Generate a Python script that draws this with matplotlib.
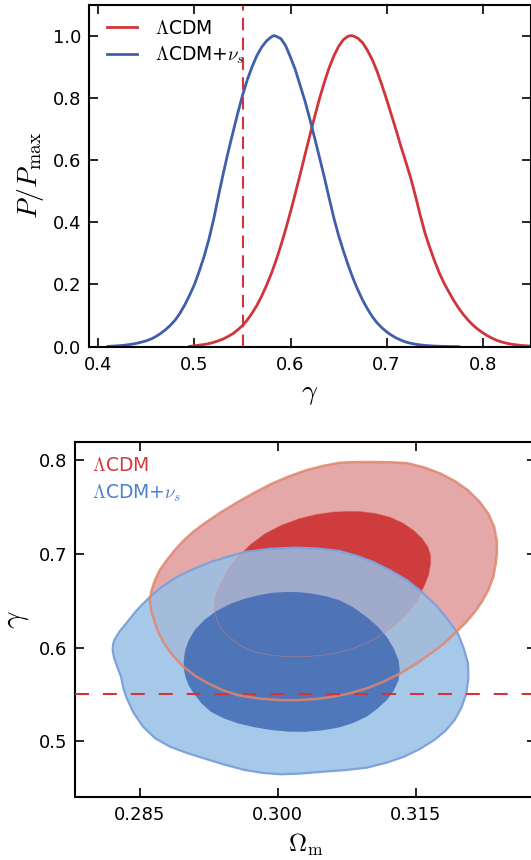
import matplotlib
matplotlib.use('Agg')
import matplotlib.pyplot as plt

plt.rcParams['mathtext.fontset'] = 'cm'
plt.rcParams['font.family'] = ['DejaVu Sans']

# ---------------- data ----------------
models = [r'$\Lambda$CDM', r'$\Lambda$CDM+$\nu_s$']

# 1D posteriors of gamma (P/Pmax)
gamma_lcdm = [0.495, 0.500, 0.505, 0.510, 0.515, 0.520, 0.525, 0.530, 0.535, 0.540,
              0.545, 0.550, 0.555, 0.560, 0.565, 0.570, 0.575, 0.580, 0.585, 0.590,
              0.595, 0.600, 0.605, 0.610, 0.615, 0.620, 0.625, 0.630, 0.635, 0.640,
              0.645, 0.650, 0.655, 0.660, 0.663, 0.665, 0.670, 0.675, 0.680, 0.685,
              0.690, 0.695, 0.700, 0.705, 0.710, 0.715, 0.720, 0.725, 0.730, 0.735,
              0.740, 0.745, 0.750, 0.755, 0.760, 0.765, 0.770, 0.775, 0.780, 0.785,
              0.790, 0.795, 0.800, 0.805, 0.810, 0.815, 0.820, 0.825, 0.830, 0.835,
              0.840, 0.845, 0.850]
P_lcdm = [0.001, 0.003, 0.005, 0.007, 0.010, 0.014, 0.019, 0.025, 0.033, 0.042,
          0.054, 0.068, 0.086, 0.108, 0.133, 0.163, 0.197, 0.235, 0.278, 0.326,
          0.378, 0.434, 0.493, 0.554, 0.616, 0.678, 0.738, 0.796, 0.848, 0.895,
          0.934, 0.965, 0.987, 0.998, 1.000, 0.999, 0.992, 0.977, 0.953, 0.923,
          0.886, 0.842, 0.795, 0.745, 0.695, 0.643, 0.594, 0.543, 0.485, 0.423,
          0.365, 0.318, 0.275, 0.236, 0.203, 0.175, 0.148, 0.124, 0.103, 0.085,
          0.069, 0.056, 0.045, 0.035, 0.027, 0.020, 0.015, 0.011, 0.008, 0.006,
          0.004, 0.003, 0.002]

gamma_nus = [0.410, 0.415, 0.420, 0.425, 0.430, 0.435, 0.440, 0.445, 0.450, 0.455,
             0.460, 0.465, 0.470, 0.475, 0.480, 0.485, 0.490, 0.495, 0.500, 0.505,
             0.510, 0.515, 0.520, 0.525, 0.530, 0.535, 0.540, 0.545, 0.550, 0.555,
             0.560, 0.565, 0.570, 0.575, 0.580, 0.5825, 0.585, 0.590, 0.595, 0.600,
             0.605, 0.610, 0.615, 0.620, 0.625, 0.630, 0.635, 0.640, 0.645, 0.650,
             0.655, 0.660, 0.665, 0.670, 0.675, 0.680, 0.685, 0.690, 0.695, 0.700,
             0.705, 0.710, 0.715, 0.720, 0.725, 0.730, 0.740, 0.750, 0.760, 0.775]
P_nus = [0.001, 0.002, 0.003, 0.004, 0.006, 0.008, 0.011, 0.015, 0.019, 0.025,
         0.033, 0.043, 0.055, 0.069, 0.086, 0.108, 0.135, 0.166, 0.200, 0.243,
         0.290, 0.345, 0.410, 0.485, 0.557, 0.625, 0.688, 0.750, 0.808, 0.858,
         0.900, 0.936, 0.963, 0.983, 0.996, 1.000, 0.998, 0.990, 0.967, 0.930,
         0.890, 0.840, 0.790, 0.733, 0.672, 0.610, 0.547, 0.480, 0.415, 0.358,
         0.308, 0.262, 0.220, 0.183, 0.150, 0.122, 0.097, 0.077, 0.061, 0.048,
         0.037, 0.028, 0.021, 0.015, 0.011, 0.008, 0.004, 0.002, 0.001, 0.000]

gamma_GR = 0.55

# 2D confidence regions in (Omega_m, gamma), boundaries
lcdm_2sig_om = [0.2861, 0.28630, 0.28666, 0.28720, 0.28794, 0.28880, 0.28979, 0.29085, 0.29199,
                0.29380, 0.29566, 0.29750, 0.29934, 0.30118, 0.30302, 0.30485, 0.30669, 0.30850,
                0.31037, 0.31220, 0.31405, 0.31590, 0.31771, 0.31930, 0.32066, 0.32190, 0.32286,
                0.32350, 0.32378, 0.32380, 0.32367, 0.32340, 0.32286, 0.32220, 0.3214, 0.32040,
                0.3192, 0.31800, 0.31662, 0.31500, 0.31331, 0.31150, 0.30963, 0.30780, 0.30596,
                0.30410, 0.30228, 0.30033, 0.29800, 0.29566, 0.29400, 0.2924, 0.29100, 0.2898,
                0.28860, 0.28763, 0.28700, 0.28657, 0.28625]
lcdm_2sig_g = [0.6506, 0.6615, 0.672, 0.6830, 0.6933, 0.7040, 0.7146, 0.7240, 0.7324,
               0.7445, 0.7555, 0.7657, 0.7751, 0.7828, 0.7893, 0.7940, 0.7975, 0.7982,
               0.7983, 0.7980, 0.7971, 0.7925, 0.7858, 0.7775, 0.768, 0.7560, 0.7431,
               0.7290, 0.7146, 0.7020, 0.6898, 0.6755, 0.6613, 0.6495, 0.6381, 0.6265,
               0.615, 0.6040, 0.5937, 0.5825, 0.5724, 0.5637, 0.5563, 0.5510, 0.5474,
               0.5450, 0.5439, 0.5439, 0.5455, 0.5492, 0.5545, 0.562, 0.5700, 0.5791,
               0.5915, 0.6047, 0.6170, 0.6292, 0.6400]

lcdm_1sig_om = [0.29316, 0.29335, 0.29383, 0.29460, 0.29566, 0.29700, 0.2986, 0.30040, 0.30228,
                0.30410, 0.30596, 0.30745, 0.3089, 0.31060, 0.3122, 0.31360, 0.31477, 0.31570,
                0.31633, 0.31662, 0.31662, 0.31640, 0.31588, 0.31510, 0.31405, 0.31285, 0.31147,
                0.30990, 0.30816, 0.30650, 0.30485, 0.30300, 0.30117, 0.29930, 0.2975, 0.29610,
                0.29493, 0.29405, 0.29346, 0.29318]
lcdm_1sig_g = [0.647, 0.658, 0.6684, 0.6830, 0.6968, 0.7100, 0.7218, 0.7310, 0.7378,
               0.7423, 0.7449, 0.7458, 0.7456, 0.7435, 0.7395, 0.7332, 0.7253, 0.7165,
               0.7075, 0.6985, 0.6898, 0.6775, 0.6648, 0.6500, 0.6364, 0.6250, 0.615,
               0.6060, 0.599, 0.5945, 0.5919, 0.5903, 0.5901, 0.5918, 0.5954, 0.6015,
               0.6097, 0.6180, 0.6274, 0.6370]

nus_2sig_om = [0.28207, 0.28210, 0.28224, 0.28280, 0.28353, 0.28470, 0.2861, 0.28750, 0.28905,
               0.29085, 0.29273, 0.29455, 0.2964, 0.29915, 0.30191, 0.30430, 0.30669, 0.30855,
               0.31037, 0.31220, 0.31405, 0.31575, 0.31735, 0.31850, 0.31956, 0.32020, 0.32066,
               0.32070, 0.32047, 0.31995, 0.3192, 0.31820, 0.31699, 0.31540, 0.31368, 0.31170,
               0.30963, 0.30725, 0.30485, 0.30265, 0.30045, 0.29840, 0.2964, 0.29420, 0.29199,
               0.29010, 0.28831, 0.28670, 0.28537, 0.28430, 0.28353, 0.28320, 0.28298, 0.28270,
               0.28243, 0.28220]
nus_2sig_g = [0.5972, 0.6025, 0.6079, 0.6170, 0.6257, 0.6400, 0.6541, 0.6655, 0.6755,
              0.6840, 0.6915, 0.6970, 0.7021, 0.7055, 0.7068, 0.7058, 0.7032, 0.6980,
              0.6915, 0.6825, 0.6719, 0.6585, 0.6434, 0.6295, 0.615, 0.5990, 0.583,
              0.5670, 0.551, 0.5360, 0.5225, 0.5110, 0.5012, 0.4915, 0.4833, 0.4767,
              0.4716, 0.4690, 0.4673, 0.4655, 0.4646, 0.4660, 0.4692, 0.4750, 0.4816,
              0.4875, 0.494, 0.5030, 0.5154, 0.5310, 0.5474, 0.5580, 0.5687, 0.5760,
              0.583, 0.5900]

nus_1sig_om = [0.28979, 0.28995, 0.29033, 0.29100, 0.29199, 0.29330, 0.29493, 0.29640, 0.29787,
               0.29935, 0.30081, 0.30230, 0.30375, 0.30525, 0.30669, 0.30820, 0.30963, 0.31085,
               0.31184, 0.31260, 0.31312, 0.31325, 0.31312, 0.31260, 0.31184, 0.31080, 0.30963,
               0.30820, 0.30669, 0.30485, 0.30302, 0.30118, 0.29934, 0.29750, 0.29566, 0.29410,
               0.29273, 0.29170, 0.29088, 0.29030, 0.28997, 0.28980]
nus_1sig_g = [0.5866, 0.5975, 0.6079, 0.6190, 0.6292, 0.6390, 0.6471, 0.6522, 0.6559,
              0.6585, 0.6594, 0.6592, 0.6577, 0.6548, 0.6506, 0.6430, 0.6328, 0.6225,
              0.6114, 0.5990, 0.5866, 0.5760, 0.5652, 0.5540, 0.5439, 0.5345, 0.526,
              0.5195, 0.5147, 0.5115, 0.51, 0.5102, 0.5118, 0.5148, 0.519, 0.5245,
              0.5314, 0.5405, 0.551, 0.5600, 0.5687, 0.5775]

top_xticks = [0.4, 0.5, 0.6, 0.7, 0.8]
top_xticklabels = ['0.4', '0.5', '0.6', '0.7', '0.8']
top_yticks = [0.0, 0.2, 0.4, 0.6, 0.8, 1.0]
top_yticklabels = ['0.0', '0.2', '0.4', '0.6', '0.8', '1.0']
bot_xticks = [0.285, 0.300, 0.315]
bot_xticklabels = ['0.285', '0.300', '0.315']
bot_yticks = [0.5, 0.6, 0.7, 0.8]
bot_yticklabels = ['0.5', '0.6', '0.7', '0.8']

# ---------------- style ----------------
RED = '#d1343a'
BLUE = '#3f5fab'
RED_OUT = '#e4a8a8'
RED_IN = '#ce3c3e'
RED_EDGE = '#e0866e'
BLUE_OUT = '#98c0e6'
BLUE_IN = '#4069b3'
BLUE_EDGE = '#7fa2dc'
RED_TXT = '#d33a3c'
BLUE_TXT = '#4e7fc9'

W, H = 531, 860
fig = plt.figure(figsize=(W / 100, H / 100), dpi=100)


def px_axes(l, r, t, b):
    return fig.add_axes([l / W, 1 - b / H, (r - l) / W, (b - t) / H])


def style(ax):
    for s in ax.spines.values():
        s.set_linewidth(1.5)
    ax.tick_params(direction='in', length=6.5, width=1.2, top=True, right=True,
                   labelsize=13)
    ax.tick_params(axis='x', pad=6.5)
    ax.tick_params(axis='y', pad=5.5)


# ---- top panel ----
ax1 = px_axes(88.8, 530.7, 4.5, 346.7)
style(ax1)
ax1.plot(gamma_lcdm, P_lcdm, color=RED, lw=2.0, label=models[0])
ax1.plot(gamma_nus, P_nus, color=BLUE, lw=2.0, label=models[1])
ax1.axvline(gamma_GR, color=RED, lw=1.5, dashes=(6, 3.5))
ax1.set_xlim(0.39, 0.85)
ax1.set_ylim(0.0, 1.1)
ax1.set_xticks(top_xticks)
ax1.set_xticklabels(top_xticklabels)
ax1.set_yticks(top_yticks)
ax1.set_yticklabels(top_yticklabels)
ax1.set_xlabel(r'$\gamma$', fontsize=20, labelpad=4)
ax1.set_ylabel(r'$P/P_{\rm max}$', fontsize=20, labelpad=5)
ax1.legend(loc='upper left', bbox_to_anchor=(0.041, 0.958), frameon=False, fontsize=13.5,
           handlelength=1.6, handletextpad=0.95, borderpad=0, borderaxespad=0,
           labelspacing=0.38)

# ---- bottom panel ----
ax2 = px_axes(75.2, 535.6, 441.7, 797.3)
style(ax2)
ax2.fill(lcdm_2sig_om, lcdm_2sig_g, color=RED_OUT, lw=0, zorder=1)
ax2.fill(lcdm_1sig_om, lcdm_1sig_g, color=RED_IN, lw=0, zorder=1.1)
ax2.fill(nus_2sig_om, nus_2sig_g, color=BLUE_OUT, alpha=0.85, lw=0, zorder=2)
ax2.fill(nus_1sig_om, nus_1sig_g, color=BLUE_IN, alpha=0.85, lw=0, zorder=2.1)
ax2.fill(nus_2sig_om, nus_2sig_g, facecolor='none', edgecolor=BLUE_EDGE, lw=1.6, zorder=3)
ax2.fill(lcdm_2sig_om, lcdm_2sig_g, facecolor='none', edgecolor=RED_EDGE, lw=1.8,
         alpha=0.85, zorder=3.5)
ax2.fill(lcdm_1sig_om, lcdm_1sig_g, facecolor='none', edgecolor=RED_EDGE, lw=0.6,
         alpha=0.5, zorder=3.5)
ax2.axhline(gamma_GR, color=RED, lw=1.5, dashes=(6.7, 6.7), zorder=4)
ax2.set_xlim(0.278, 0.328)
ax2.set_ylim(0.44, 0.82)
ax2.set_xticks(bot_xticks)
ax2.set_xticklabels(bot_xticklabels)
ax2.set_yticks(bot_yticks)
ax2.set_yticklabels(bot_yticklabels)
ax2.set_xlabel(r'$\Omega_{\rm m}$', fontsize=18, labelpad=5)
ax2.set_ylabel(r'$\gamma$', fontsize=22, labelpad=6)
ax2.text(0.037, 0.932, models[0], color=RED_TXT, fontsize=13.5, transform=ax2.transAxes,
         ha='left', va='center')
ax2.text(0.037, 0.856, models[1], color=BLUE_TXT, fontsize=13.5, transform=ax2.transAxes,
         ha='left', va='center')

fig.savefig('out.png', dpi=100)
